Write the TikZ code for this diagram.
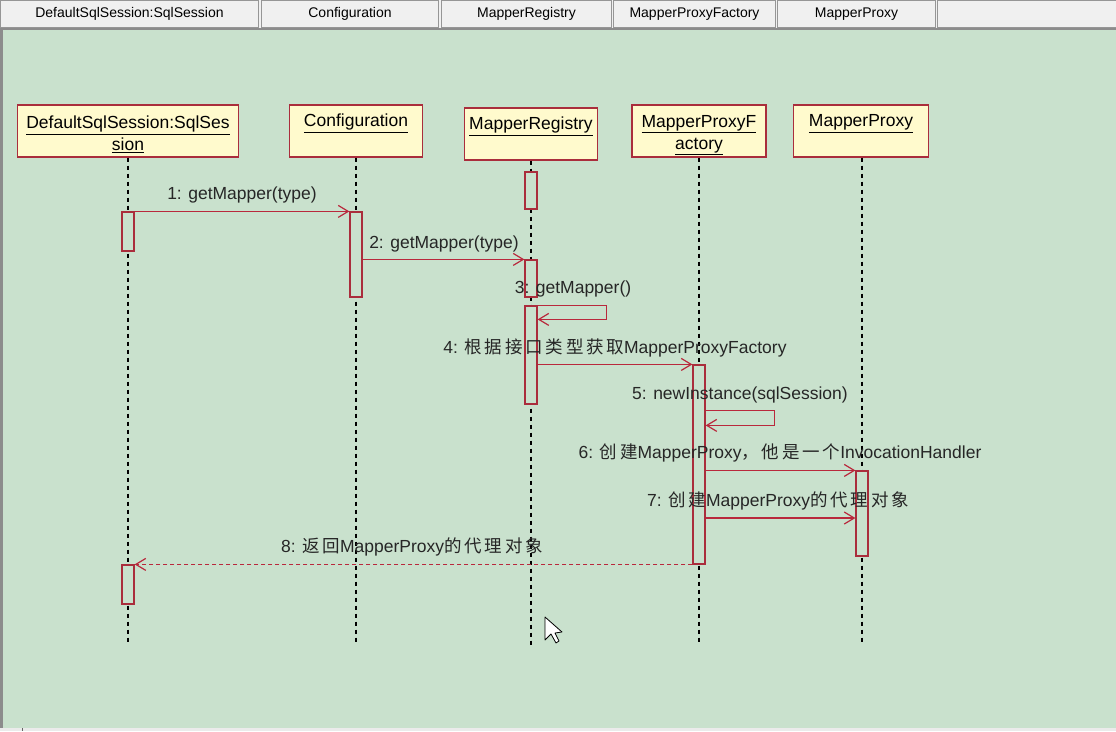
\documentclass[tikz,border=0pt]{standalone}
\usepackage{fontspec}
\setmainfont{Liberation Sans}
\newfontfamily\cjk[LetterSpace=16]{Noto Sans CJK SC}
\usetikzlibrary{arrows.meta}
\definecolor{canvas}{RGB}{201,225,205}
\definecolor{boxfill}{RGB}{255,250,205}
\definecolor{boxline}{RGB}{170,45,60}
\definecolor{msgline}{RGB}{185,40,60}
\definecolor{tabfill}{RGB}{240,240,240}
\definecolor{tabline}{RGB}{150,150,150}
\newcommand{\topgap}{\rule{0pt}{20pt}}
\begin{document}
\begin{tikzpicture}[x=1pt,y=-1pt,
  tab/.style={draw=tabline,fill=tabfill,line width=1pt,minimum height=27pt,inner sep=0pt,font=\fontsize{14}{16}\selectfont},
  objbox/.style={draw=boxline,fill=boxfill,line width=1.2pt,minimum height=52pt,inner sep=0pt,align=center,font=\fontsize{17.5}{22}\selectfont,text=black},
  life/.style={black,line width=1.1pt,dash pattern=on 4pt off 4pt},
  actbar/.style={draw=boxline,fill=canvas,line width=1.2pt,minimum width=12pt,inner sep=0pt},
  msg/.style={msgline,line width=1.2pt,-{Straight Barb[length=10pt,width=12pt]}},
  ret/.style={msg,dash pattern=on 4pt off 3pt},
  lbl/.style={anchor=base,inner sep=0pt,font=\fontsize{17.5}{20}\selectfont,text=black!85}]
\useasboundingbox (0,0) rectangle (1116,731);
% window
\fill[tabfill] (0,0) rectangle (1116,30);
\fill[canvas] (3,30) rectangle (1116,728);
\fill[black!45] (0,28) rectangle (1116,30);
\fill[black!45] (0,30) rectangle (3,728);
\fill[white!92!black] (0,728) rectangle (1116,731);
\draw[black!60,line width=1pt] (22,728) -- (22,731);
% tabs
\node[tab,minimum width=258pt,anchor=north west] (t1) at (0,0) {DefaultSqlSession:SqlSession};
\node[tab,minimum width=177pt,anchor=north west] (t2) at (261,0) {Configuration};
\node[tab,minimum width=170pt,anchor=north west] (t3) at (441,0) {MapperRegistry};
\node[tab,minimum width=162pt,anchor=north west] (t4) at (613,0) {MapperProxyFactory};
\node[tab,minimum width=158pt,anchor=north west] (t5) at (777,0) {MapperProxy};
\node[tab,minimum width=180pt,anchor=north west] (t6) at (937,0) {};
% objects
\node[objbox,minimum width=221pt] (b1) at (128,131) {\topgap\underline{DefaultSqlSession:SqlSes}\\\underline{sion}};
\node[objbox,minimum width=133pt] (b2) at (356,131) {\topgap\underline{Configuration}\\\strut};
\node[objbox,minimum width=133pt] (b3) at (531,134) {\topgap\underline{MapperRegistry}\\\strut};
\node[objbox,minimum width=134pt] (b4) at (699,131) {\topgap\underline{MapperProxyF}\\\underline{actory}};
\node[objbox,minimum width=135pt] (b5) at (861,131) {\topgap\underline{MapperProxy}\\\strut};
% lifelines
\coordinate (lend) at (0,645);
\foreach \b in {b1,b2,b3,b4} \draw[life] (\b.south) -- (\b.south |- lend);
\draw[life] ([xshift=1pt]b5.south) -- ([xshift=1pt]b5.south |- lend);
% activation bars
\node[actbar,minimum height=39pt] (s1) at (128,231.5) {};
\node[actbar,minimum height=39pt] (s2) at (128,584.5) {};
\node[actbar,minimum height=85pt] (c1) at (356,254.5) {};
\node[actbar,minimum height=37pt] (r1) at (531,190.5) {};
\node[actbar,minimum height=37pt] (r2) at (531,278.5) {};
\node[actbar,minimum height=98pt] (r3) at (531,355) {};
\node[actbar,minimum height=199pt] (f1) at (699,464.5) {};
\node[actbar,minimum height=85pt] (p1) at (862,513.5) {};
% messages
\draw[msg] (s1.north east) -- (c1.north west);
\draw[msg] (c1.east |- r2.north) -- (r2.north west);
\draw[msg] (r3.north east) -- ++(69,0) -- ++(0,14) -- ([yshift=-14pt]r3.north east);
\draw[msg] (r3.east |- f1.north) -- (f1.north west);
\draw[msg] ([yshift=-46pt]f1.north east) -- ++(69,0) -- ++(0,15) -- ([yshift=-61pt]f1.north east);
\draw[msg] (f1.east |- p1.north) -- (p1.north west);
\coordinate (m7) at (780,518);
\draw[msg] (f1.east |- m7) -- (p1.west |- m7);
\draw[ret] (f1.west |- s2.north) -- (s2.north east);
% labels
\node[lbl] (l1) at (242,199) {1: getMapper(type)};
\node[lbl] (l2) at (444,248) {2: getMapper(type)};
\node[lbl] (l3) at (573,293) {3: getMapper()};
\node[lbl] (l4) at (615,353) {4: {\cjk 根据接口类型获取}MapperProxyFactory};
\node[lbl] (l5) at (740,399) {5: newInstance(sqlSession)};
\node[lbl] (l6) at (780,458) {6: {\cjk 创建}MapperProxy{\cjk ，他是一个}InvocationHandler};
\node[lbl] (l7) at (778,506) {7: {\cjk 创建}MapperProxy{\cjk 的代理对象}};
\node[lbl] (l8) at (412,552) {8: {\cjk 返回}MapperProxy{\cjk 的代理对象}};
% mouse cursor
\draw[black,fill=white,line width=0.8pt,line join=round] (545,617) -- (545,640) -- (551,634) -- (556,643) -- (559,641) -- (555,633) -- (562,632) -- cycle;
\end{tikzpicture}
\end{document}
